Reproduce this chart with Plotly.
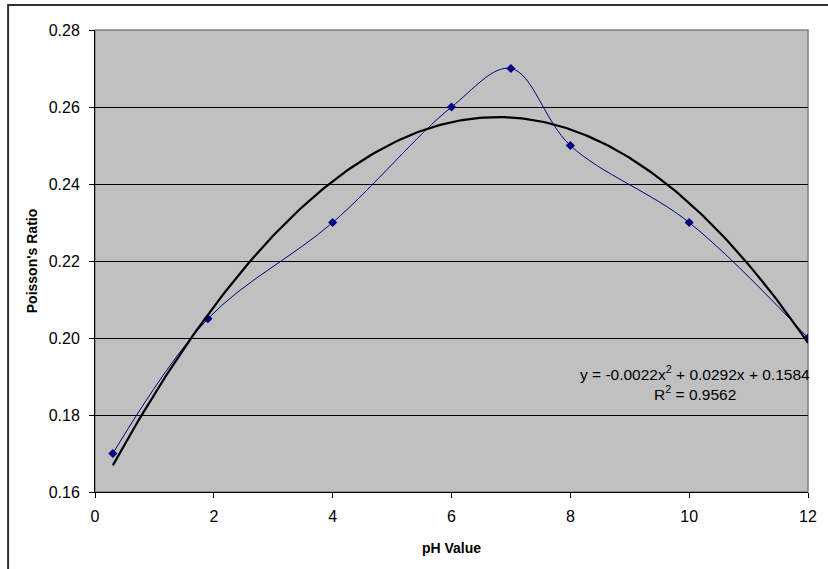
import numpy as np
import plotly.graph_objects as go

ph = [0.3, 1.9, 4, 6, 7, 8, 10, 12]
poisson = [0.17, 0.205, 0.23, 0.26, 0.27, 0.25, 0.23, 0.20]
x_ticks = [0, 2, 4, 6, 8, 10, 12]
y_ticks = [0.16, 0.18, 0.20, 0.22, 0.24, 0.26, 0.28]
eq_text = "y = -0.0022x<sup>2</sup> + 0.0292x + 0.1584"
r2_text = "R<sup>2</sup> = 0.9562"

# polynomial trendline (order 2) fitted to the data, as the chart tool does
coef = np.polyfit(ph, poisson, 2)
xt = np.linspace(min(ph), max(ph), 200)
yt = np.polyval(coef, xt)

FONT = "Liberation Sans, Arial"
W, H = 722, 462

fig = go.Figure()
fig.add_trace(go.Scatter(x=ph, y=poisson, mode="lines+markers",
                         line=dict(color="#000080", width=1, shape="spline", smoothing=1.0),
                         marker=dict(symbol="diamond", size=7, color="#000080"),
                         showlegend=False))
fig.add_trace(go.Scatter(x=xt, y=yt, mode="lines",
                         line=dict(color="black", width=2.2), showlegend=False))

fig.add_annotation(x=(703 - 95) / W, y=(492 - 373) / H, xref="paper", yref="paper", text=eq_text,
                   xanchor="center", yanchor="middle",
                   showarrow=False, font=dict(size=15.5, color="black", family=FONT))
fig.add_annotation(x=(703 - 95) / W, y=(492 - 393) / H, xref="paper", yref="paper", text=r2_text,
                   xanchor="center", yanchor="middle",
                   showarrow=False, font=dict(size=15.5, color="black", family=FONT))

# outer chart border
fig.add_shape(type="rect", xref="paper", yref="paper",
              x0=-88 / W, x1=1 + 30 / W, y0=-90 / H, y1=1 + 25 / H,
              line=dict(color="#333333", width=2), layer="below")
# plot-area top/right border
fig.add_shape(type="rect", xref="paper", yref="paper", x0=0, x1=1, y0=0, y1=1,
              line=dict(color="#808080", width=1.5), layer="below")

fig.update_layout(
    width=828, height=569,
    margin=dict(l=95, r=11, t=30, b=77),
    paper_bgcolor="white", plot_bgcolor="#C0C0C0",
    font=dict(family=FONT, size=16, color="black"),
    xaxis=dict(range=[0, 12], tickvals=x_ticks, ticks="outside", ticklen=5,
               tickcolor="black", showline=True, linecolor="black", linewidth=1,
               showgrid=False, zeroline=False, tickfont=dict(size=16), ticklabelstandoff=5,
               title=dict(text="<b>pH Value</b>", font=dict(size=14), standoff=18)),
    yaxis=dict(range=[0.16, 0.28], tickvals=y_ticks, tickformat=".2f", ticks="outside",
               ticklen=5, tickcolor="black", showline=True, linecolor="black", linewidth=1,
               showgrid=True, gridcolor="black", gridwidth=1, zeroline=False, tickfont=dict(size=16),
               ticklabelstandoff=6,
               title=dict(text="<b>Poisson's Ratio</b>", font=dict(size=14), standoff=7)),
)
fig.write_html("out.html")
